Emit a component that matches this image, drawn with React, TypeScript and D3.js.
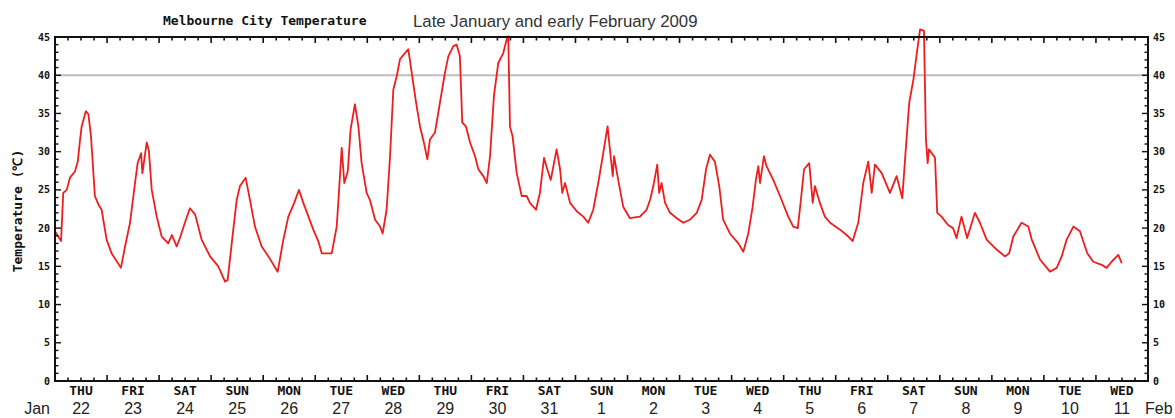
import { useRef, useEffect } from "react";
import * as d3 from "d3";

// hours after Jan 22 2009 00:00, and temperature (°C)
const hoursSinceStart = [
  0, 2.8, 3.8, 5.4, 6.9, 9.2, 10.5, 11.5, 12.3, 14.2, 15.4, 16.6, 18.4, 20.0, 21.5, 23.8,
  26.1, 30.4, 32.3, 34.6, 36.9, 38.1, 39.7, 40.3, 42.3, 43.3, 44.6, 46.9, 49.2, 52.2, 53.9,
  56.1, 57.6, 59.9, 62.2, 64.6, 67.6, 71.5, 75.3, 78.4, 79.6, 82.2, 83.8, 85.3, 87.9, 89.9,
  92.2, 95.3, 98.4, 102.7, 105.3, 107.6, 110.3, 112.5, 114.5, 119.1, 121.4, 123.0, 127.6,
  129.9, 131.0, 132.2, 133.4, 135.0, 136.3, 138.3, 139.9, 141.4, 143.7, 145.2, 147.6, 149.9,
  151.1, 152.9, 154.5, 156.0, 157.6, 159.1, 161.4, 162.9, 164.5, 166.5, 168.3, 170.1, 171.7,
  172.9, 175.2, 177.5, 179.8, 181.4, 183.7, 185.2, 186.7, 187.8, 189.5, 191.4, 193.7, 195.2,
  197.5, 199.1, 200.6, 202.4, 204.4, 206.7, 208.3, 209.0, 209.8, 211.0, 212.9, 215.2, 217.5,
  219.0, 221.8, 223.6, 225.5, 227.0, 228.6, 231.3, 232.9, 233.9, 235.2, 237.5, 240.6, 243.6,
  245.9, 248.2, 250.5, 252.8, 254.8, 256.2, 257.2, 257.8, 259.7, 262.0, 265.1, 269.7, 272.8,
  274.4, 275.9, 277.7, 278.6, 279.7, 281.3, 283.6, 286.7, 289.7, 292.8, 295.9, 298.2, 300.2,
  302.0, 304.3, 306.3, 308.1, 311.2, 315.1, 317.4, 319.7, 321.7, 323.2, 324.3, 325.1, 326.9,
  328.1, 331.2, 334.3, 338.1, 340.4, 342.5, 343.8, 345.4, 347.8, 349.4, 350.4, 352.7, 355.0,
  357.4, 362.0, 365.8, 367.8, 370.4, 372.7, 375.0, 376.6, 378.1, 381.2, 385.0, 388.1, 390.7,
  392.4, 393.9, 395.8, 397.4, 398.9, 400.7, 401.6, 402.4, 403.0, 405.8, 406.8, 408.8, 411.8,
  414.1, 415.7, 418.0, 420.6, 424.2, 426.5, 429.6, 434.2, 438.0, 440.0, 441.9, 445.7, 448.8,
  450.4, 454.2, 458.8, 461.9, 464.2, 466.5, 469.6, 472.6, 476.0, 478.8, 482.6, 484.9, 487.2,
  490.3, 491.9,
];
const tempC = [
  19.6, 18.3, 24.6, 25.0, 26.6, 27.4, 28.7, 31.4, 33.3, 35.3, 34.9, 32.0, 24.2, 23.1, 22.4, 18.5,
  16.7, 14.8, 17.6, 20.7, 25.9, 28.5, 29.8, 27.2, 31.2, 30.1, 25.0, 21.5, 18.9, 18.0, 19.1,
  17.6, 18.7, 20.7, 22.6, 21.8, 18.5, 16.3, 15.0, 13.0, 13.2, 19.8, 23.7, 25.5, 26.6, 23.7,
  20.2, 17.6, 16.3, 14.3, 18.5, 21.5, 23.3, 25.0, 23.3, 19.8, 18.3, 16.7, 16.7,
  20.2, 25.0, 30.5, 25.9, 27.4, 32.9, 36.2, 33.3, 28.5, 24.6, 23.7, 21.1, 20.2,
  19.3, 22.4, 29.4, 38.1, 39.9, 42.1, 42.9, 43.4, 40.3, 36.4, 33.3, 31.2, 29.0,
  31.6, 32.5, 36.4, 40.3, 42.5, 43.8, 44.0, 42.5, 33.8, 33.3, 31.2, 29.4, 27.7,
  26.8, 25.9, 29.4, 37.3, 41.6, 42.9, 44.7, 45.1, 33.3, 32.0, 27.2, 24.2, 24.2,
  23.3, 22.4, 24.6, 29.2, 27.7, 26.3, 30.3, 27.7, 24.6, 25.9, 23.3, 22.2, 21.5,
  20.7, 22.4, 25.9, 29.8, 33.3, 29.4, 26.8, 29.4, 26.3, 22.8, 21.3, 21.5, 22.4,
  23.7, 25.5, 28.3, 24.6, 25.9, 23.3, 22.0, 21.3, 20.7, 21.1, 22.0, 23.7, 27.7,
  29.6, 28.7, 25.5, 21.1, 19.3, 18.0, 16.9, 19.3, 22.8, 26.3, 28.1, 25.9, 29.4,
  28.1, 26.3, 24.2, 21.5, 20.2, 20.0, 23.3, 27.7, 28.5, 23.3, 25.5, 23.3, 21.5,
  20.7, 19.8, 18.9, 18.3, 20.7, 25.9, 28.7, 24.6, 28.3, 27.2, 24.6, 26.8, 23.9,
  30.7, 36.4, 39.4, 42.9, 46.0, 45.8, 31.6, 28.5, 30.3, 29.2, 22.0, 21.5, 20.4,
  20.0, 18.7, 21.5, 18.7, 22.0, 20.7, 18.5, 17.2, 16.3, 16.7, 18.9, 20.7, 20.2,
  18.5, 15.9, 14.3, 14.8, 16.3, 18.5, 20.2, 19.6, 16.7, 15.6, 15.2, 14.8, 15.6,
  16.5, 15.4,
];

const dayNames = [
  "THU", "FRI", "SAT", "SUN", "MON", "TUE", "WED", "THU", "FRI", "SAT", "SUN",
  "MON", "TUE", "WED", "THU", "FRI", "SAT", "SUN", "MON", "TUE", "WED",
];
const dayNumbers = [
  "22", "23", "24", "25", "26", "27", "28", "29", "30", "31", "1",
  "2", "3", "4", "5", "6", "7", "8", "9", "10", "11",
];
const yTickValues = [0, 5, 10, 15, 20, 25, 30, 35, 40, 45];

const MONO = "'DejaVu Sans Mono', 'Liberation Mono', monospace";
const SANS = "'Liberation Sans', Arial, sans-serif";

export default function App() {
  const svgRef = useRef<SVGSVGElement>(null);

  useEffect(() => {
    if (!svgRef.current) return;
    const svg = d3.select(svgRef.current);
    svg.selectAll("*").remove();

    const left = 55;
    const right = 1148;
    const top = 37;
    const bottom = 381;

    const start = new Date(2009, 0, 22);
    const end = new Date(2009, 1, 12);

    const x = d3.scaleTime().domain([start, end]).range([left, right]);
    const y = d3.scaleLinear().domain([0, 45]).range([bottom, top]);

    const data = hoursSinceStart.map((h, i) => ({
      date: new Date(start.getTime() + h * 3600 * 1000),
      t: tempC[i],
    }));

    // 40 degree reference line
    svg
      .append("line")
      .attr("x1", left)
      .attr("x2", right)
      .attr("y1", y(40))
      .attr("y2", y(40))
      .attr("stroke", "#bdbdbd")
      .attr("stroke-width", 2);

    // temperature trace
    const line = d3
      .line<{ date: Date; t: number }>()
      .x((d) => x(d.date))
      .y((d) => y(d.t));

    svg
      .append("path")
      .datum(data)
      .attr("d", line)
      .attr("fill", "none")
      .attr("stroke", "#ef1d1d")
      .attr("stroke-width", 1.8)
      .attr("stroke-linejoin", "round");

    // frame
    svg
      .append("rect")
      .attr("x", left)
      .attr("y", top)
      .attr("width", right - left)
      .attr("height", bottom - top)
      .attr("fill", "none")
      .attr("stroke", "#111")
      .attr("stroke-width", 2);

    // x ticks every 6 hours, longer at midnight, top and bottom, pointing inward
    const xTicks = x.ticks(d3.timeHour.every(6)!).filter((d) => d > start && d < end);
    const tickLen = (d: Date) => (d.getHours() === 0 ? 6 : 3.5);
    svg
      .append("g")
      .selectAll("line")
      .data(xTicks)
      .enter()
      .append("line")
      .attr("x1", (d) => x(d))
      .attr("x2", (d) => x(d))
      .attr("y1", bottom)
      .attr("y2", (d) => bottom - tickLen(d))
      .attr("stroke", "#111")
      .attr("stroke-width", 1.6);
    svg
      .append("g")
      .selectAll("line")
      .data(xTicks)
      .enter()
      .append("line")
      .attr("x1", (d) => x(d))
      .attr("x2", (d) => x(d))
      .attr("y1", top)
      .attr("y2", (d) => top + tickLen(d))
      .attr("stroke", "#111")
      .attr("stroke-width", 1.6);

    // y ticks every 1 degree, longer every 5, both sides pointing inward
    const yMinor = d3.range(1, 45);
    const yLen = (v: number) => (v % 5 === 0 ? 6 : 3.5);
    svg
      .append("g")
      .selectAll("line")
      .data(yMinor)
      .enter()
      .append("line")
      .attr("x1", left)
      .attr("x2", (v) => left + yLen(v))
      .attr("y1", (v) => y(v))
      .attr("y2", (v) => y(v))
      .attr("stroke", "#111")
      .attr("stroke-width", 1.4);
    svg
      .append("g")
      .selectAll("line")
      .data(yMinor)
      .enter()
      .append("line")
      .attr("x1", right)
      .attr("x2", (v) => right - yLen(v))
      .attr("y1", (v) => y(v))
      .attr("y2", (v) => y(v))
      .attr("stroke", "#111")
      .attr("stroke-width", 1.4);

    // y tick labels
    const yLabelStyle = (sel: d3.Selection<SVGTextElement, number, SVGGElement, unknown>) =>
      sel
        .attr("y", (v) => y(v))
        .attr("dy", "0.35em")
        .attr("font-family", MONO)
        .attr("font-weight", "bold")
        .attr("font-size", 10)
        .attr("fill", "#111")
        .text((v) => String(v));

    svg
      .append("g")
      .selectAll("text")
      .data(yTickValues)
      .enter()
      .append("text")
      .attr("x", 50)
      .attr("text-anchor", "end")
      .call(yLabelStyle);
    svg
      .append("g")
      .selectAll("text")
      .data(yTickValues)
      .enter()
      .append("text")
      .attr("x", 1153)
      .attr("text-anchor", "start")
      .call(yLabelStyle);

    // day labels at noon
    const days = d3.timeDay.range(start, end);
    svg
      .append("g")
      .selectAll("text")
      .data(days)
      .enter()
      .append("text")
      .attr("x", (d) => x(d3.timeHour.offset(d, 12)))
      .attr("y", 395)
      .attr("text-anchor", "middle")
      .attr("font-family", MONO)
      .attr("font-weight", "bold")
      .attr("font-size", 13)
      .attr("fill", "#111")
      .text((_, i) => dayNames[i]);

    svg
      .append("g")
      .selectAll("text")
      .data(days)
      .enter()
      .append("text")
      .attr("x", (d) => x(d3.timeHour.offset(d, 12)))
      .attr("y", 414)
      .attr("text-anchor", "middle")
      .attr("font-family", SANS)
      .attr("font-size", 16)
      .attr("fill", "#222")
      .text((_, i) => dayNumbers[i]);

    svg
      .append("text")
      .attr("x", 50)
      .attr("y", 414)
      .attr("text-anchor", "end")
      .attr("font-family", SANS)
      .attr("font-size", 16)
      .attr("fill", "#222")
      .text("Jan");
    svg
      .append("text")
      .attr("x", 1145)
      .attr("y", 414)
      .attr("font-family", SANS)
      .attr("font-size", 16)
      .attr("fill", "#222")
      .text("Feb");

    // titles
    svg
      .append("text")
      .attr("x", 163)
      .attr("y", 25)
      .attr("font-family", MONO)
      .attr("font-weight", "bold")
      .attr("font-size", 13)
      .attr("fill", "#111")
      .text("Melbourne City Temperature");
    svg
      .append("text")
      .attr("x", 413)
      .attr("y", 27)
      .attr("font-family", SANS)
      .attr("font-size", 16.8)
      .attr("fill", "#333")
      .text("Late January and early February 2009");

    // y axis title
    svg
      .append("text")
      .attr("transform", `translate(22, 211) rotate(-90)`)
      .attr("text-anchor", "middle")
      .attr("font-family", MONO)
      .attr("font-weight", "bold")
      .attr("font-size", 13)
      .attr("fill", "#111")
      .text("Temperature (\u2103)");
  }, []);

  return (
    <svg
      ref={svgRef}
      width={1175}
      height={418}
      style={{ position: "absolute", left: 0, top: 0, background: "#fff" }}
    />
  );
}
